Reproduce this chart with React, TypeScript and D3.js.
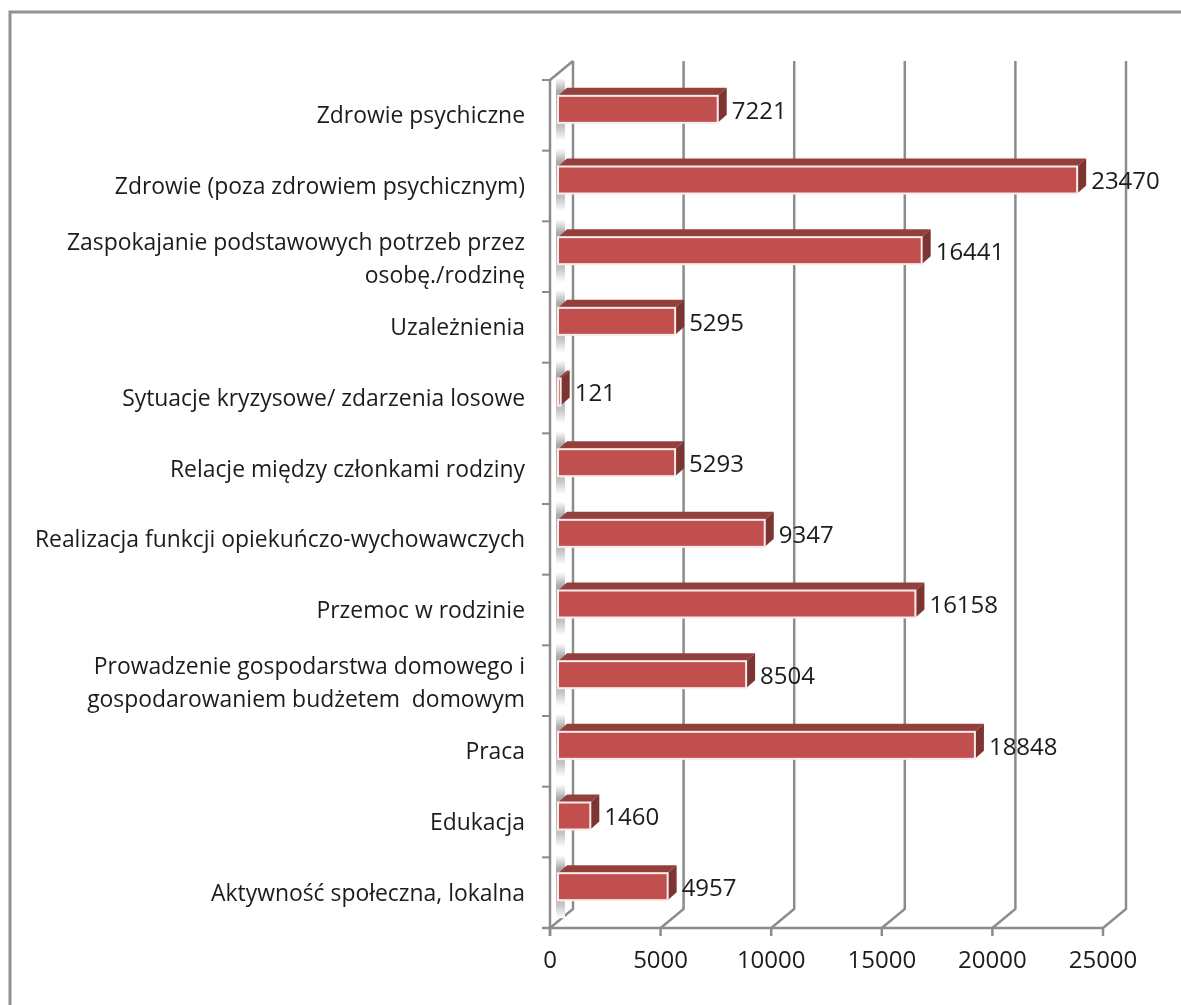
import { useMemo } from "react";
import * as d3 from "d3";

const categories = [
  "Zdrowie psychiczne",
  "Zdrowie (poza zdrowiem psychicznym)",
  "Zaspokajanie podstawowych potrzeb przez|osobę./rodzinę",
  "Uzależnienia",
  "Sytuacje kryzysowe/ zdarzenia losowe",
  "Relacje między członkami rodziny",
  "Realizacja funkcji opiekuńczo-wychowawczych",
  "Przemoc w rodzinie",
  "Prowadzenie gospodarstwa domowego i|gospodarowaniem budżetem  domowym",
  "Praca",
  "Edukacja",
  "Aktywność społeczna, lokalna",
];
const values = [7221, 23470, 16441, 5295, 121, 5293, 9347, 16158, 8504, 18848, 1460, 4957];
const ticks = [0, 5000, 10000, 15000, 20000, 25000];

const FONT = "'Open Sans', sans-serif";
const GRID = "#8c8c8c";
const INK = "#1c1c1c";

export default function App() {
  const { x, y } = useMemo(() => {
    const x = d3.scaleLinear().domain([0, 25000]).range([550, 1103]);
    const y = d3.scaleBand().domain(categories).range([80, 928]);
    return { x, y };
  }, []);

  const depth = { dx: 23, dy: -19 };
  const barDepth = { dx: 9, dy: -8 };
  const barH = 27;
  const barX0 = x(0) + 8;
  const bottom = y.range()[1];
  const top = y.range()[0];

  return (
    <svg width={1181} height={1005} style={{ position: "absolute", left: 0, top: 0, background: "#fff" }}>
      <defs>
        <linearGradient id="smear" x1="0" x2="0" y1="0" y2="1">
          <stop offset="0" stopColor="#fff" />
          <stop offset="0.22" stopColor="#a8a8a8" />
          <stop offset="0.78" stopColor="#c4c4c4" />
          <stop offset="1" stopColor="#fff" />
        </linearGradient>
        <filter id="soft" x="-5%" y="-5%" width="110%" height="110%">
          <feGaussianBlur stdDeviation="0.5" />
        </filter>
      </defs>

      <g filter="url(#soft)">
        {/* outer frame */}
        <path d="M10,1005 V12 H1181" fill="none" stroke="#929292" strokeWidth={3} />

        {/* back wall grid and floor */}
        {ticks.map((t) => (
          <path
            key={t}
            d={`M${x(t)},${bottom} L${x(t) + depth.dx},${bottom + depth.dy} V${top + depth.dy}`}
            fill="none"
            stroke={GRID}
            strokeWidth={2.5}
          />
        ))}
        <path d={`M${x(0)},${top} L${x(0) + depth.dx},${top + depth.dy}`} stroke={GRID} strokeWidth={2.5} fill="none" />

        {/* axes */}
        <line x1={x(0)} x2={x(0)} y1={top} y2={bottom + 8} stroke={GRID} strokeWidth={2.5} />
        <line x1={x(0) - 8} x2={x(25000)} y1={bottom} y2={bottom} stroke={GRID} strokeWidth={2.5} />
        {categories.map((c) => (
          <line key={c} x1={x(0) - 8} x2={x(0)} y1={y(c)!} y2={y(c)!} stroke={GRID} strokeWidth={2} />
        ))}
        <line x1={x(0) - 8} x2={x(0)} y1={top} y2={top} stroke={GRID} strokeWidth={2} />
        {ticks.map((t) => (
          <line key={t} x1={x(t)} x2={x(t)} y1={bottom} y2={bottom + 8} stroke={GRID} strokeWidth={2.5} />
        ))}

        {/* bars */}
        {categories.map((c, i) => {
          const yTop = y(c)! + y.bandwidth() / 2 - 6 - barH / 2;
          const xEnd = barX0 + x(values[i]) - x(0);
          return (
            <g key={c}>
              <rect x={barX0 - 2} y={yTop - 18} width={9} height={barH + 36} fill="url(#smear)" />
              <path
                d={`M${barX0},${yTop} l${barDepth.dx},${barDepth.dy} H${xEnd + barDepth.dx} L${xEnd},${yTop} Z`}
                fill="#93403d"
              />
              <path
                d={`M${xEnd},${yTop} l${barDepth.dx},${barDepth.dy} v${barH} L${xEnd},${yTop + barH} Z`}
                fill="#7d3431"
              />
              <rect
                x={barX0}
                y={yTop}
                width={xEnd - barX0}
                height={barH}
                fill="#c0504d"
                stroke="#f8ecec"
                strokeWidth={2}
              />
              <text
                x={xEnd + 14}
                y={yTop + barH / 2 + 1}
                dy="0.35em"
                fontFamily={FONT}
                fontSize={24}
                fill={INK}
              >
                {values[i]}
              </text>
            </g>
          );
        })}

        {/* category labels */}
        {categories.map((c) => {
          const lines = c.split("|");
          const cy = y(c)! + y.bandwidth() / 2 + (lines.length > 1 ? 2 : 0);
          return (
            <text key={c} textAnchor="end" fontFamily={FONT} fontSize={22.9} fill={INK} xmlSpace="preserve">
              {lines.map((l, j) => (
                <tspan key={j} x={525} y={cy + (j - (lines.length - 1) / 2) * 33} dy="0.35em">
                  {l}
                </tspan>
              ))}
            </text>
          );
        })}

        {/* value axis labels */}
        {ticks.map((t) => (
          <text key={t} x={x(t)} y={960} dy="0.35em" textAnchor="middle" fontFamily={FONT} fontSize={24} fill={INK}>
            {t}
          </text>
        ))}
      </g>
    </svg>
  );
}
